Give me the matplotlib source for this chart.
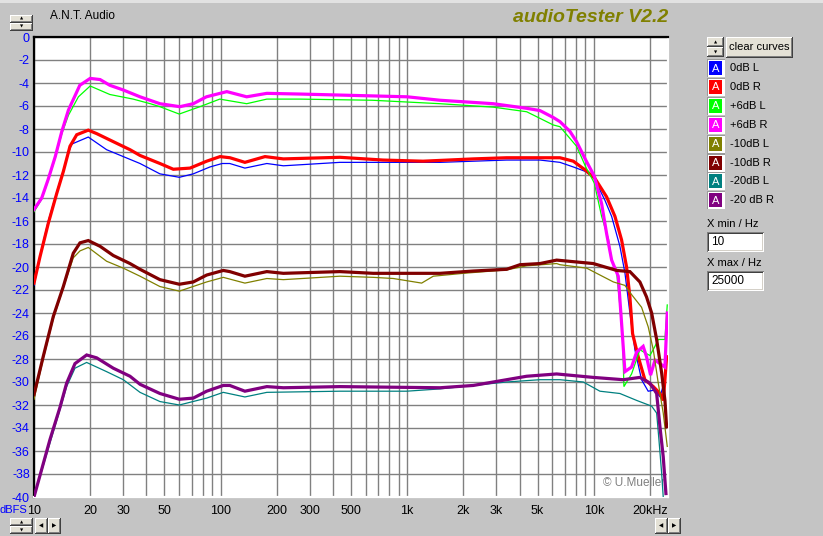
import numpy as np
import matplotlib
matplotlib.use("Agg")
import matplotlib.pyplot as plt
from matplotlib.patches import Rectangle

# ---- measured curves (Hz, dBFS) ----
f_0L = [10, 10.77, 11.93, 13.24, 14.36, 15.59, 16.0, 19.54, 24.5, 30.1, 37, 47.3, 60.1, 71.4, 87.7,
        102, 112, 135, 177, 217, 436, 1500, 3413, 5150, 6590, 7770, 9060, 10070, 11480, 12470,
        13810, 14690, 15620, 16620, 18040, 19580, 21280, 22640, 24070]
db_0L = [-21.6, -19.0, -16.0, -13.5, -11.6, -9.7, -9.3, -8.7, -9.8, -10.4, -11.0, -11.9, -12.2, -11.9, -11.3,
         -11.0, -11.0, -11.4, -11.0, -11.2, -10.9, -10.9, -10.7, -10.7, -10.9, -11.3, -11.7, -12.3, -14.2, -15.6,
         -18.2, -20.5, -24.0, -27.2, -29.8, -30.8, -30.7, -31.3, -29.8]

f_0R = [10, 10.77, 11.93, 13.24, 14.36, 15.59, 16.94, 19.54, 21.67, 26.6, 32.7, 37, 47.3, 55.8, 68.6,
        84.2, 99.3, 112.3, 135, 173, 217, 436, 742, 1216, 2261, 3413, 6590, 7770, 9060, 10150,
        11720, 12990, 14100, 14990, 15620, 16150, 17310, 18790, 20850, 22640, 23570, 24070, 24570]
db_0R = [-21.4, -19.1, -16.2, -13.6, -11.7, -9.5, -8.5, -8.1, -8.4, -9.1, -9.8, -10.3, -11.0, -11.5, -11.4,
         -10.8, -10.4, -10.5, -10.9, -10.4, -10.6, -10.46, -10.7, -10.8, -10.6, -10.5, -10.5, -10.8, -11.6, -12.3,
         -13.9, -15.6, -17.65, -20.0, -22.6, -25.8, -27.8, -29.8, -30.4, -31.0, -31.6, -29.8, -27.8]

f_6L = [10, 11, 11.9, 13, 14.1, 15.3, 17.3, 20, 25.5, 34, 42, 47.3, 60, 77.5, 99, 138, 177, 266,
        650, 1500, 2890, 4370, 6070, 6590, 8090, 9060, 10070, 11020, 12000, 12500, 13270, 13810,
        14280, 14510, 15950, 17670, 20000, 21280, 22170, 24070, 24770]
db_6L = [-15.2, -14.1, -12.5, -10.5, -8.4, -6.8, -5.2, -4.26, -5.0, -5.4, -5.8, -6.06, -6.7, -6.06, -5.4, -5.8, -5.4, -5.4,
         -5.5, -5.8, -6.1, -6.5, -7.65, -7.8, -9.5, -11.3, -12.7, -15.6, -17.6, -19.5, -20.5, -23.4,
         -26.3, -30.4, -29.3, -27.2, -27.7, -26.9, -26.3, -26.3, -23.3]

f_6R = [10, 11, 11.9, 13, 14.1, 15.3, 17.6, 20, 22.6, 25.5, 30, 37, 47.3, 60.5, 71.4, 84, 108, 138, 177, 266,
        1000, 1500, 2890, 4370, 5150, 6070, 6590, 7450, 8090, 9060, 10070, 11020, 11720, 12470,
        13530, 14100, 14380, 14690, 15950, 16970, 18400, 19180, 20160, 21280, 22640, 24070, 24770]
db_6R = [-15.0, -14.0, -12.4, -10.4, -8.2, -6.35, -4.2, -3.6, -3.7, -4.2, -4.6, -5.2, -5.8, -6.06, -5.8, -5.2, -4.75, -5.2, -4.9, -4.96,
         -5.2, -5.5, -5.8, -6.2, -6.4, -7.0, -7.36, -8.2, -9.1, -10.7, -12.1, -14.5, -17.1, -19.4,
         -20.8, -24.9, -26.9, -29.1, -28.7, -27.4, -26.9, -27.8, -29.4, -28.1, -28.4, -28.7, -24.0]

f_m10L = [10, 11.2, 12.69, 14.36, 16.24, 17.64, 19.54, 24.5, 30.1, 37, 47.3, 60.1, 84.2, 103.4, 135, 177,
          217, 436, 658, 843, 1196, 1380, 2000, 3413, 4368, 6326, 6590, 9160, 12740, 14690, 15950,
          18040, 19580, 20850, 22170, 23570, 24770]
db_m10L = [-31.5, -28.0, -24.5, -21.8, -19.2, -18.6, -18.3, -19.5, -20.1, -20.8, -21.7, -22.1, -21.3, -20.9, -21.4, -21.0,
           -21.1, -20.8, -20.9, -21.0, -21.4, -20.8, -20.55, -20.25, -19.9, -19.7, -19.8, -20.1, -21.3, -21.6, -22.4,
           -23.5, -25.2, -27.2, -30.1, -32.7, -35.6]

f_m10R = [10, 11.2, 12.69, 14.36, 16.24, 17.64, 19.54, 22.6, 26.6, 32.7, 37, 47.3, 60.1, 71.4, 84.2, 103.4,
          112, 135, 177, 217, 436, 658, 994, 1500, 2261, 3413, 4024, 5150, 6326, 9940, 13270, 15620,
          17670, 19180, 20430, 21730, 23110, 24070, 24570]
db_m10R = [-31.1, -27.8, -24.3, -21.7, -18.8, -17.9, -17.7, -18.2, -19.0, -19.7, -20.2, -21.1, -21.5, -21.3, -20.7, -20.3,
           -20.4, -20.8, -20.4, -20.55, -20.4, -20.55, -20.55, -20.55, -20.35, -20.2, -19.8, -19.7, -19.4, -19.7, -20.3, -20.4,
           -21.3, -22.6, -24.0, -26.3, -29.2, -31.6, -33.9]

f_m20L = [10, 12.18, 13.78, 14.96, 16.58, 19.15, 24.5, 30.1, 37, 47.3, 60.1, 84.2, 103.4, 135, 177, 436,
          994, 1500, 2261, 3413, 5150, 6590, 8790, 10790, 13810, 16970, 20430, 21730, 22350, 23110, 23570]
db_m20L = [-40.0, -35.3, -32.4, -30.4, -28.8, -28.3, -29.1, -29.8, -30.9, -31.7, -32.0, -31.4, -30.9, -31.3, -30.9, -30.8,
           -30.8, -30.6, -30.3, -30.0, -29.8, -29.8, -30.0, -30.8, -31.0, -31.6, -32.1, -32.7, -35.0, -37.9, -40.0]

f_m20R = [10, 12.18, 13.78, 14.96, 16.58, 19.15, 21.67, 26.6, 32.7, 37, 47.3, 60.1, 71.4, 84.2, 103.4, 112,
          135, 177, 217, 436, 1500, 2261, 3413, 4368, 6326, 9940, 14380, 17670, 20000, 21730, 22640,
          23570, 24370]
db_m20R = [-40.0, -35.0, -32.2, -30.1, -28.4, -27.65, -27.9, -28.8, -29.5, -30.2, -31.0, -31.5, -31.4, -30.8, -30.3, -30.3,
           -30.8, -30.4, -30.5, -30.4, -30.5, -30.3, -29.8, -29.5, -29.3, -29.6, -29.8, -29.6, -30.1, -31.0, -33.9,
           -36.5, -39.7]

curve_names = ["0dB L", "0dB R", "+6dB L", "+6dB R", "-10dB L", "-10dB R", "-20dB L", "-20 dB R"]
curve_colors = ["#0000ff", "#ff0000", "#00ff00", "#ff00ff", "#808000", "#800000", "#008080", "#800080"]

x_ticks = [10, 20, 30, 50, 100, 200, 300, 500, 1000, 2000, 3000, 5000, 10000, 20000]
x_labels = ["10", "20", "30", "50", "100", "200", "300", "500", "1k", "2k", "3k", "5k", "10k", "20kHz"]
y_ticks = list(range(-40, 1, 2))

W, H = 823, 536
BG = "#c4c4c4"
FACE = "#e4e1d6"
FONT = "Liberation Sans"
plt.rcParams["font.family"] = [FONT, "DejaVu Sans"]

fig = plt.figure(figsize=(W / 100, H / 100), dpi=100)
fig.patch.set_facecolor(BG)


def fx(x):
    return x / W


def fy(y):
    return 1 - y / H


def rect(x0, y0, x1, y1, fc):
    fig.add_artist(Rectangle((fx(x0), fy(y1)), (x1 - x0) / W, (y1 - y0) / H,
                             transform=fig.transFigure, facecolor=fc, edgecolor="none", lw=0))


def button(x0, y0, x1, y1):
    # raised windows-style button
    rect(x0, y0, x1, y1, "#404040")
    rect(x0, y0, x1 - 1, y1 - 1, "#ffffff")
    rect(x0 + 1, y0 + 1, x1 - 1, y1 - 1, "#808080")
    rect(x0 + 1, y0 + 1, x1 - 2, y1 - 2, FACE)


def arrow(x, y, s, size=4.5):
    fig.text(fx(x), fy(y), s, ha="center", va="center", fontsize=size,
             family=["DejaVu Sans"], color="black")


# top strip
rect(0, 0, W, 3, "#e2e2e2")

# main plot
ax = fig.add_axes([fx(34), fy(497), 634 / W, 460 / H])
ax.set_facecolor("white")
ax.set_xscale("log")

series = [(f_0L, db_0L), (f_0R, db_0R), (f_6L, db_6L), (f_6R, db_6R),
          (f_m10L, db_m10L), (f_m10R, db_m10R), (f_m20L, db_m20L), (f_m20R, db_m20R)]
for i, ((f, db), c) in enumerate(zip(series, curve_colors)):
    lw = 2.3 if i % 2 == 1 else 0.9
    ax.plot(f, db, color=c, lw=lw, solid_joinstyle="miter", zorder=3 + i)

ax.set_xlim(10, 25000)
ax.set_ylim(-40, 0)

grid_x = [m * 10 ** e for e in range(1, 5) for m in range(1, 10) if m * 10 ** e <= 25000]
ax.set_xticks(grid_x)
ax.set_xticklabels([x_labels[x_ticks.index(g)] if g in x_ticks else "" for g in grid_x])
ax.minorticks_off()
ax.set_yticks(y_ticks)
ax.set_yticklabels([str(v) for v in y_ticks])
ax.tick_params(axis="both", length=0, labelsize=9)
ax.tick_params(axis="x", pad=6, labelcolor="black")
ax.tick_params(axis="y", pad=3, labelcolor="#0000ff")
ax.grid(True, color="#808080", lw=1.0)
ax.set_axisbelow(True)

for side in ["left", "top"]:
    ax.spines[side].set_color("black")
    ax.spines[side].set_linewidth(1.6)
for side in ["right", "bottom"]:
    ax.spines[side].set_color("white")
    ax.spines[side].set_linewidth(1.6)

ax.text(0.995, 0.018, "\u00a9 U.Mueller", transform=ax.transAxes, ha="right", va="bottom",
        fontsize=8.5, color="#808080", zorder=2)

fig.text(fx(27), fy(510), "dBFS", ha="right", va="center", fontsize=8, color="#0000ff")

# header texts
fig.text(fx(50), fy(16), "A.N.T. Audio", ha="left", va="center", fontsize=8.5, color="black")
fig.text(fx(513), fy(17), "audioTester V2.2", ha="left", va="center", fontsize=14,
         fontweight="bold", fontstyle="italic", color="#808000")

# top-left spinner
button(10, 15, 33, 23)
button(10, 23, 33, 31)
arrow(21.5, 19, "\u25b2", 3)
arrow(21.5, 27, "\u25bc", 3)

# right panel
button(707, 37, 724, 47)
button(707, 47, 724, 57)
arrow(715.5, 42, "\u25b2", 3)
arrow(715.5, 52, "\u25bc", 3)
button(726, 37, 793, 58)
fig.text(fx(759.5), fy(47.5), "clear curves", ha="center", va="center", fontsize=8, color="black")

for i, (name, c) in enumerate(zip(curve_names, curve_colors)):
    yc = 68 + 18.9 * i
    rect(707, yc - 9, 725, yc + 9, "#9a9a9a")
    rect(708, yc - 8, 725, yc + 9, "#ffffff")
    rect(709, yc - 7, 722, yc + 7, c)
    fig.text(fx(715.5), fy(yc + 0.5), "A", ha="center", va="center", fontsize=8, color="white")
    fig.text(fx(730), fy(yc), name, ha="left", va="center", fontsize=8, color="black")

for label, val, yl, yb in [("X min / Hz", "10", 224, 232), ("X max / Hz", "25000", 263, 271)]:
    fig.text(fx(707), fy(yl), label, ha="left", va="center", fontsize=8, color="black")
    rect(707, yb, 764, yb + 20, "#808080")
    rect(708, yb + 1, 764, yb + 20, "#ffffff")
    rect(708, yb + 1, 763, yb + 19, "#404040")
    rect(709, yb + 2, 763, yb + 19, "#d4d0c8")
    rect(709, yb + 2, 762, yb + 18, "#ffffff")
    fig.text(fx(711), fy(yb + 10), val, ha="left", va="center", fontsize=8.5, color="black")

# bottom controls
button(10, 518, 33, 526)
button(10, 526, 33, 534)
arrow(21.5, 522, "\u25b2", 3)
arrow(21.5, 530, "\u25bc", 3)
for x0 in (35, 48, 655, 668):
    button(x0, 518, x0 + 13, 534)
arrow(41.5, 526, "\u25c0", 4)
arrow(54.5, 526, "\u25b6", 4)
arrow(661.5, 526, "\u25c0", 4)
arrow(674.5, 526, "\u25b6", 4)

fig.savefig("out.png", dpi=100, facecolor=fig.get_facecolor())
